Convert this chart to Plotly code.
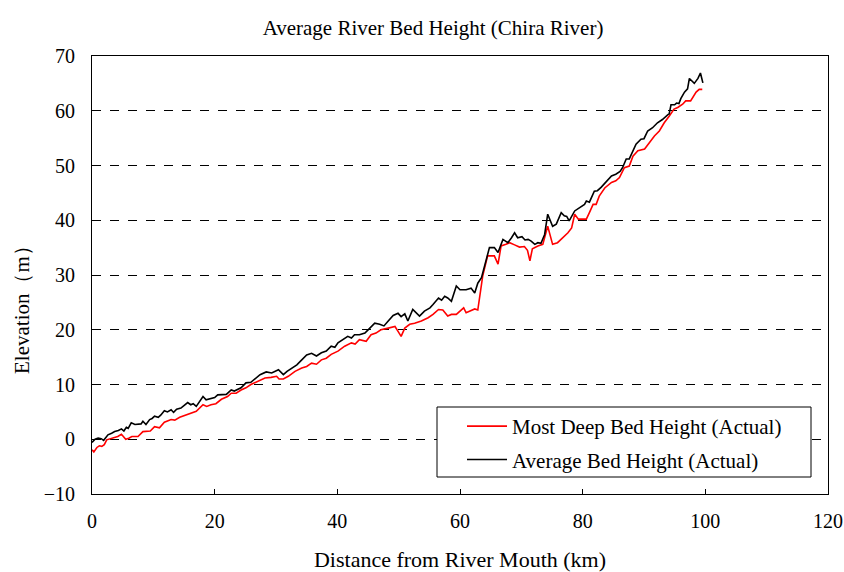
import plotly.graph_objects as go

# Average bed height along the Chira River (distance in km, elevation in m)
avg_km = [0.0, 0.5, 1.0, 1.5, 1.9, 2.6, 3.2, 3.7, 4.3, 4.8, 5.2, 5.6, 5.9, 6.4, 7.0, 7.5, 8.0,
          8.3, 8.8, 9.4, 9.8, 10.2, 10.8, 11.2, 11.8, 12.3, 12.9, 13.3, 13.8, 14.5, 15.1, 15.6,
          16.1, 16.5, 17.0, 17.5, 18.1, 18.6, 19.4, 20.0, 20.5, 21.2, 21.9, 22.7, 23.2, 24.3,
          25.1, 25.9, 26.5, 27.4, 28.4, 29.3, 30.4, 31.2, 31.8, 32.5, 33.4, 34.2, 35.0, 35.8,
          36.6, 37.4, 38.2, 39.0, 39.6, 40.1, 40.9, 41.7, 42.3, 42.8, 43.6, 44.5, 45.3, 46.1,
          46.9, 47.6, 48.3, 49.1, 49.9, 50.4, 51.0, 51.5, 52.3, 53.4, 54.2, 55.1, 55.6, 56.5,
          57.0, 57.5, 58.0, 58.6, 59.4, 60.0, 61.0, 61.8, 62.4, 62.9, 63.5, 64.0, 64.8, 65.6,
          66.2, 67.0, 67.8, 68.4, 68.9, 69.4, 70.1, 70.6, 71.1, 71.6, 72.2, 72.7, 73.2, 73.8,
          74.3, 75.1, 75.7, 76.5, 77.0, 77.4, 77.8, 78.7, 79.5, 80.3, 80.6, 81.1, 81.9, 82.4,
          83.0, 83.8, 84.7, 85.4, 86.1, 86.5, 87.1, 87.6, 88.2, 88.7, 89.5, 90.0, 90.6, 91.4,
          92.2, 93.0, 93.9, 94.1, 94.4, 95.0, 95.3, 95.7, 96.0, 96.6, 97.1, 97.4, 98.2, 98.8,
          99.2, 99.6]
avg_elev = [-0.6, 0.0, 0.2, 0.1, -0.2, 0.8, 1.1, 1.4, 1.6, 1.9, 1.5, 2.2, 2.0, 3.0, 2.7, 2.7,
            2.8, 3.3, 2.7, 3.6, 3.8, 4.2, 4.0, 4.4, 5.2, 5.0, 5.4, 4.9, 5.5, 5.7, 6.2, 6.7, 6.3,
            6.5, 6.0, 6.9, 7.8, 7.2, 7.5, 7.6, 8.1, 8.1, 8.2, 9.0, 8.8, 9.4, 10.3, 10.4, 11.0,
            11.8, 12.3, 12.1, 12.7, 11.8, 12.4, 13.0, 13.6, 14.5, 15.4, 15.7, 15.2, 15.8, 16.1,
            17.0, 16.8, 17.6, 18.2, 18.8, 18.5, 19.1, 19.1, 19.4, 20.3, 21.2, 21.0, 20.7, 21.6,
            22.6, 23.0, 22.4, 22.9, 21.6, 23.7, 22.5, 23.4, 24.0, 24.6, 25.8, 25.4, 26.1, 25.8,
            25.2, 28.0, 27.3, 27.3, 27.6, 26.7, 28.5, 29.5, 31.6, 35.0, 35.0, 34.1, 36.5, 35.9,
            36.8, 37.7, 36.8, 37.0, 36.4, 36.5, 36.2, 35.6, 35.9, 35.8, 37.4, 41.1, 38.9, 39.3,
            41.4, 40.8, 40.7, 39.9, 41.7, 42.3, 42.9, 43.5, 43.3, 45.3, 45.4, 46.0, 46.9, 48.1,
            48.4, 48.9, 49.6, 51.2, 51.2, 52.7, 53.9, 54.8, 54.9, 56.3, 56.9, 57.8, 58.4, 59.3,
            59.4, 61.1, 61.1, 61.4, 61.3, 62.2, 63.4, 64.0, 65.9, 65.0, 65.9, 66.9, 65.1]

# Deepest bed height along the same reach
deep_km = [0.0, 0.3, 0.8, 1.2, 1.6, 2.0, 2.4, 3.5, 4.2, 4.8, 5.5, 6.0, 6.5, 7.5, 8.3, 9.5,
           10.2, 11.0, 11.8, 12.9, 13.5, 14.3, 15.6, 17.0, 18.1, 18.7, 19.4, 20.2, 21.1, 22.1,
           22.7, 23.5, 24.3, 25.1, 25.9, 27.0, 28.2, 29.2, 30.1, 30.5, 31.2, 32.0, 33.1, 34.2,
           35.0, 35.8, 36.6, 37.4, 38.2, 39.0, 40.1, 41.2, 42.3, 42.9, 43.6, 44.7, 45.5, 46.3,
           47.1, 48.3, 49.4, 49.9, 50.4, 51.0, 51.8, 52.6, 53.7, 54.8, 55.6, 56.5, 57.2, 58.0,
           58.6, 59.4, 60.0, 60.6, 61.0, 61.6, 62.4, 62.9, 63.2, 63.7, 64.5, 65.6, 66.2, 66.7,
           67.5, 68.1, 68.9, 69.7, 70.5, 71.0, 71.4, 71.8, 72.7, 73.5, 74.3, 75.1, 75.9, 76.8,
           77.6, 78.2, 78.7, 79.3, 80.6, 81.1, 81.7, 82.2, 82.7, 83.6, 84.7, 85.4, 86.0, 86.8,
           87.6, 88.2, 89.0, 90.1, 90.9, 91.7, 92.5, 93.3, 94.1, 94.9, 95.5, 96.3, 96.8, 97.6,
           98.5, 99.0, 99.5]
deep_elev = [-1.9, -2.3, -1.5, -1.2, -1.3, -1.0, -0.1, 0.2, 0.5, 0.9, 0.0, 0.2, 0.5, 0.5, 1.4,
             1.5, 2.3, 2.1, 3.1, 3.6, 3.5, 4.0, 4.5, 5.1, 6.3, 6.0, 6.3, 6.5, 7.3, 7.8, 8.4, 8.4,
             9.0, 9.4, 10.0, 10.6, 11.2, 11.3, 11.5, 11.0, 11.0, 11.5, 12.4, 13.0, 13.3, 13.9,
             13.7, 14.5, 14.8, 15.5, 16.1, 17.0, 17.6, 17.4, 18.2, 17.9, 19.1, 19.4, 20.0, 20.3,
             20.6, 19.7, 18.8, 20.3, 21.0, 21.2, 21.6, 22.2, 22.8, 23.7, 23.6, 22.5, 22.8, 22.8,
             23.4, 24.0, 23.1, 23.4, 23.8, 23.6, 26.2, 29.8, 33.5, 33.5, 32.0, 35.3, 35.6, 35.9,
             35.5, 35.1, 35.2, 34.5, 32.6, 34.8, 35.3, 35.6, 38.9, 35.6, 35.9, 36.8, 37.7, 38.6,
             41.1, 40.2, 40.2, 41.4, 42.9, 42.9, 44.4, 45.9, 46.9, 47.2, 47.8, 49.6, 49.9, 51.7,
             52.7, 53.0, 54.2, 55.4, 56.3, 57.8, 59.0, 60.3, 60.6, 61.2, 61.8, 61.8, 63.4, 63.9,
             63.9]

x_ticks = [0, 20, 40, 60, 80, 100, 120]
y_ticks = [-10, 0, 10, 20, 30, 40, 50, 60, 70]

serif = "Liberation Serif, Times New Roman, serif"

# plot area in pixels (844 x 572 canvas)
L, R, T, B = 92, 828, 56, 494
W, H = R - L, B - T


def px_x(p):
    return (p - L) / W


def px_y(p):
    return (B - p) / H


fig = go.Figure()
fig.add_trace(go.Scatter(x=deep_km, y=deep_elev, mode="lines",
                         name="Most Deep Bed Height (Actual)", legendgroup="deep",
                         line=dict(color="#ff0000", width=1.6)))
fig.add_trace(go.Scatter(x=avg_km, y=avg_elev, mode="lines",
                         name="Average Bed Height (Actual)", legendgroup="avg",
                         line=dict(color="#000000", width=1.6)))

fig.update_layout(
    width=844, height=572,
    margin=dict(l=L, r=844 - R, t=T, b=572 - B),
    paper_bgcolor="white", plot_bgcolor="white",
    font=dict(family=serif, size=20, color="black"),
    title=dict(text="Average River Bed Height (Chira River)", x=433 / 844, xanchor="center",
               y=1 - 28 / 572, yanchor="middle", font=dict(family=serif, size=21)),
    showlegend=True,
    legend=dict(x=px_x(462), y=px_y(406), xanchor="left", yanchor="top",
                bgcolor="rgba(0,0,0,0)", borderwidth=0,
                font=dict(family=serif, size=21), itemwidth=40,
                traceorder="grouped", tracegroupgap=3),
    shapes=[dict(type="rect", xref="paper", yref="paper",
                 x0=px_x(437), x1=px_x(811), y0=px_y(477), y1=px_y(407),
                 line=dict(color="black", width=1), fillcolor="white", layer="above")],
    annotations=[dict(text="Elevation（m）", xref="paper", yref="paper",
                      x=px_x(22), y=px_y(305), xanchor="center", yanchor="middle",
                      textangle=-90, showarrow=False,
                      font=dict(family=serif, size=21))],
)

fig.update_xaxes(range=[0, 120], tickvals=x_ticks, ticks="inside", ticklen=5,
                 tickcolor="black", showline=True, linecolor="black", linewidth=1,
                 mirror=True, showgrid=False, zeroline=False, automargin=False,
                 title=dict(text="Distance from River Mouth (km)", standoff=22,
                            font=dict(family=serif, size=22)),
                 ticklabelstandoff=9)
fig.update_yaxes(range=[-10, 70], tickvals=y_ticks, ticks="inside", ticklen=5,
                 tickcolor="black", showline=True, linecolor="black", linewidth=1,
                 mirror=True, showgrid=True, gridcolor="black", gridwidth=1,
                 griddash="dash", zeroline=False, automargin=False,
                 ticklabelstandoff=12)

fig.write_html("out.html")
